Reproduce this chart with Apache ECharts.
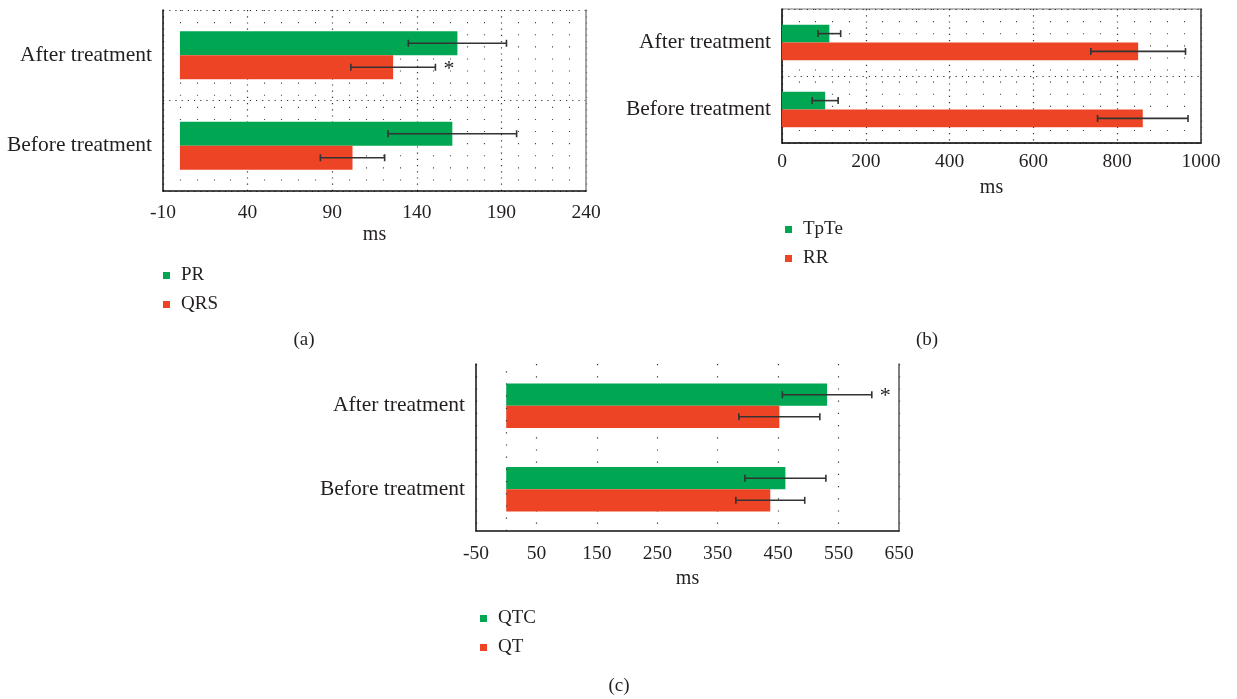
<!DOCTYPE html>
<html><head><meta charset="utf-8">
<script src="https://cdn.jsdelivr.net/npm/echarts@6/dist/echarts.min.js"></script>
<style>html,body{margin:0;padding:0;background:#fff}#c{width:1237px;height:699px}</style>
</head><body><div id="c"></div>
<script>
// ---------- data ----------
const categories = ['Before treatment', 'After treatment'];
// Panel (a)
const prMean = [161, 164];
const prSD = [38, 29];
const prSig = [false, false];
const qrsMean = [102, 126];
const qrsSD = [19, 25];
const qrsSig = [false, true];
// Panel (b)
const tpteMean = [103, 113];
const tpteSD = [31, 27];
const tpteSig = [false, false];
const rrMean = [861, 850];
const rrSD = [108, 113];
const rrSig = [false, false];
// Panel (c)
const qtcMean = [462, 531];
const qtcSD = [67, 74];
const qtcSig = [false, true];
const qtMean = [437, 452];
const qtSD = [57, 67];
const qtSig = [false, false];
// axis ticks
const axisA = { min: -10, max: 240, interval: 50 };
const axisB = { min: 0, max: 1000, interval: 200 };
const axisC = { min: -50, max: 650, interval: 100 };
const axisName = 'ms';
const captions = ['(a)', '(b)', '(c)'];

// ---------- style ----------
const FONT = '"Liberation Serif", "DejaVu Serif", serif';
const TXT = '#231f20';
const GREEN = '#00a651';
const RED = '#ee4426';
const ERR = '#333333';
const BAR_FRAC = 0.265;

function xAxisCfg(grid, ax, gap, margin, minor) {
  return {
    type: 'value', gridIndex: grid, min: ax.min, max: ax.max, interval: ax.interval,
    axisLine: { show: true, onZero: false, lineStyle: { color: '#111', width: 1.5 } },
    axisTick: { show: false },
    axisLabel: { fontFamily: FONT, fontSize: 19.5, color: TXT, margin: margin, formatter: v => String(v) },
    name: axisName, nameLocation: 'middle', nameGap: gap,
    nameTextStyle: { fontFamily: FONT, fontSize: 20, color: TXT },
    splitLine: { show: true, lineStyle: { color: '#333', width: 1.2, type: minor ? [1.2, 5] : [1.2, 11] } },
    minorTick: { show: false, splitNumber: 5 },
    minorSplitLine: { show: minor, lineStyle: { color: '#444', width: 1.1, type: [1.1, 11] } }
  };
}
function yAxisCfg(grid, split) {
  return {
    type: 'category', gridIndex: grid, data: categories,
    axisLine: { show: true, onZero: false, lineStyle: { color: '#111', width: 1.5 } },
    axisTick: { show: false },
    axisLabel: { fontFamily: FONT, fontSize: 21.5, color: TXT, margin: 11 },
    splitLine: { show: split, lineStyle: { color: '#333', width: 1.2, type: [1.2, 5] } }
  };
}
function yRightCfg(grid, color) {
  return {
    type: 'category', gridIndex: grid, data: categories, position: 'right',
    axisLine: { show: true, onZero: false, lineStyle: { color: color, width: 1.5 } },
    axisTick: { show: false }, axisLabel: { show: false }, splitLine: { show: false }
  };
}
function barSeries(name, idx, mean, color) {
  return {
    name: name, type: 'bar', xAxisIndex: idx, yAxisIndex: idx * 2,
    data: mean, barWidth: (BAR_FRAC * 100) + '%', barGap: '0%',
    itemStyle: { color: color }, silent: true
  };
}
function errSeries(name, idx, mean, sd, sig, slot) {
  return {
    name: name + ' SD', type: 'custom', xAxisIndex: idx, yAxisIndex: idx * 2, z: 5, silent: true,
    data: mean.map((m, i) => [i, m - sd[i], m + sd[i], sig[i] ? 1 : 0]),
    encode: { x: [1, 2], y: 0 },
    renderItem: function (params, api) {
      const c = api.value(0);
      const lo = api.coord([api.value(1), c]);
      const hi = api.coord([api.value(2), c]);
      const band = api.size([0, 1])[1];
      const y = lo[1] + slot * band * BAR_FRAC / 2;
      const cap = 3.5;
      const st = { stroke: ERR, lineWidth: 1.6 };
      const ch = [
        { type: 'line', shape: { x1: lo[0], y1: y, x2: hi[0], y2: y }, style: st },
        { type: 'line', shape: { x1: lo[0], y1: y - cap, x2: lo[0], y2: y + cap }, style: st },
        { type: 'line', shape: { x1: hi[0], y1: y - cap, x2: hi[0], y2: y + cap }, style: st }
      ];
      if (api.value(3)) {
        ch.push({ type: 'text', x: hi[0] + 8, y: y + 2,
          style: { text: '*', font: '22px ' + FONT, fill: TXT, align: 'left', verticalAlign: 'middle' } });
      }
      return { type: 'group', children: ch };
    }
  };
}
function legendCfg(left, top, names) {
  return {
    left: left, top: top, orient: 'vertical', data: names, icon: 'rect', padding: 0,
    itemWidth: 7, itemHeight: 7, itemGap: 10, selectedMode: false,
    textStyle: { fontFamily: FONT, fontSize: 19, color: TXT, padding: [0, 0, 0, 6] }
  };
}
function caption(x, y, t) {
  return { type: 'text', x: x, y: y,
    style: { text: t, font: '19px ' + FONT, fill: TXT, align: 'center', verticalAlign: 'middle' } };
}

const chart = echarts.init(document.getElementById('c'), null, { renderer: 'canvas' });
const qtBars = barSeries('QT', 2, qtMean, RED);
qtBars.markLine = { silent: true, symbol: 'none', label: { show: false },
  lineStyle: { color: '#333', width: 1.2, type: [1.2, 11] }, data: [{ xAxis: 0 }] };

chart.setOption({
  animation: false,
  textStyle: { fontFamily: FONT },
  grid: [
    { left: 163, top: 10, width: 423, height: 181 },
    { left: 782, top: 9, width: 419, height: 134, show: true, borderColor: '#777', borderWidth: 1 },
    { left: 476, top: 364, width: 423, height: 167 }
  ],
  xAxis: [
    xAxisCfg(0, axisA, 34, 12, true),
    xAxisCfg(1, axisB, 35, 9, true),
    xAxisCfg(2, axisC, 38, 13, false)
  ],
  yAxis: [
    yAxisCfg(0, true), yRightCfg(0, '#888'),
    yAxisCfg(1, true), yRightCfg(1, '#444'),
    yAxisCfg(2, false), yRightCfg(2, '#555')
  ],
  legend: [
    legendCfg(163, 266, ['PR', 'QRS']),
    legendCfg(785, 220, ['TpTe', 'RR']),
    legendCfg(480, 609, ['QTC', 'QT'])
  ],
  series: [
    barSeries('PR', 0, prMean, GREEN),
    barSeries('QRS', 0, qrsMean, RED),
    errSeries('PR', 0, prMean, prSD, prSig, -1),
    errSeries('QRS', 0, qrsMean, qrsSD, qrsSig, 1),
    barSeries('TpTe', 1, tpteMean, GREEN),
    barSeries('RR', 1, rrMean, RED),
    errSeries('TpTe', 1, tpteMean, tpteSD, tpteSig, -1),
    errSeries('RR', 1, rrMean, rrSD, rrSig, 1),
    barSeries('QTC', 2, qtcMean, GREEN),
    qtBars,
    errSeries('QTC', 2, qtcMean, qtcSD, qtcSig, -1),
    errSeries('QT', 2, qtMean, qtSD, qtSig, 1)
  ],
  graphic: [
    caption(304, 340, captions[0]),
    caption(927, 340, captions[1]),
    caption(619, 686, captions[2])
  ]
});
</script></body></html>
